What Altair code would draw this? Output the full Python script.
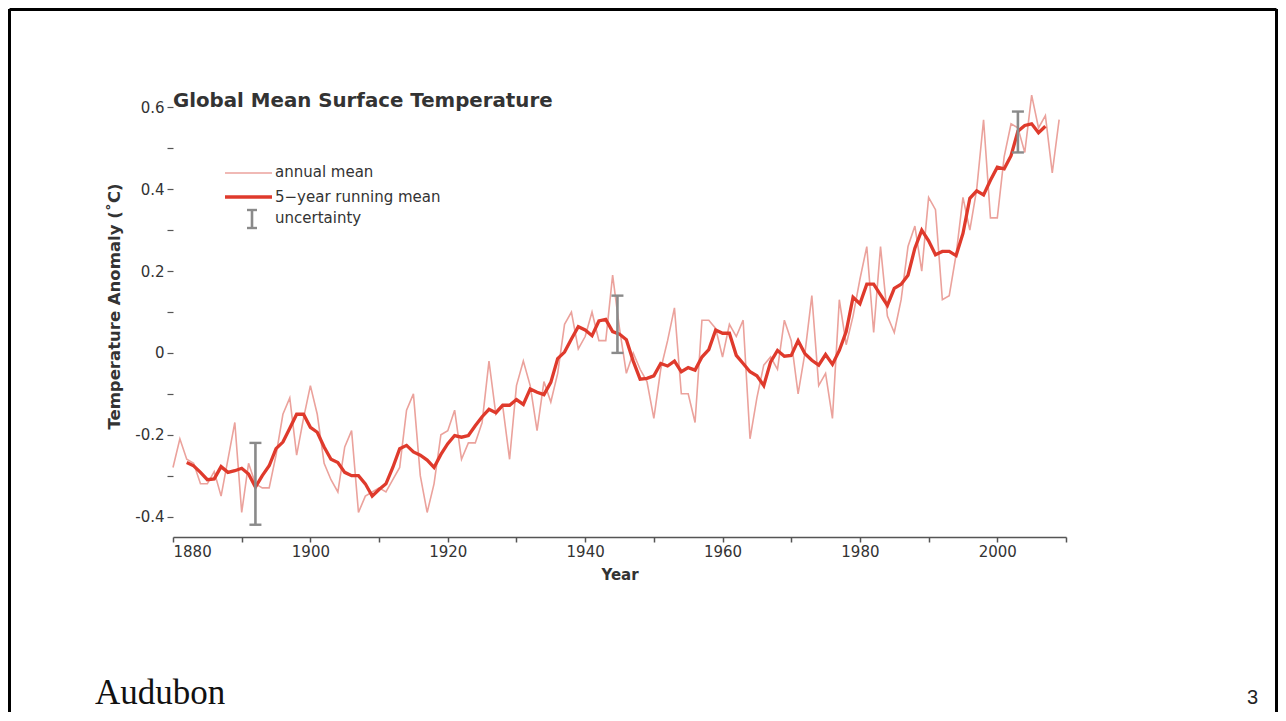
import altair as alt
import pandas as pd

# ---------------- data ----------------
years = list(range(1880, 2010))
annual = [
    -0.28, -0.21, -0.26, -0.27, -0.32, -0.32, -0.29, -0.35, -0.26, -0.17,
    -0.39, -0.27, -0.32, -0.33, -0.33, -0.25, -0.15, -0.11, -0.25, -0.16,
    -0.08, -0.15, -0.27, -0.31, -0.34, -0.23, -0.19, -0.39, -0.35, -0.34,
    -0.33, -0.34, -0.31, -0.28, -0.14, -0.10, -0.30, -0.39, -0.32, -0.20,
    -0.19, -0.14, -0.26, -0.22, -0.22, -0.17, -0.02, -0.15, -0.13, -0.26,
    -0.08, -0.02, -0.08, -0.19, -0.07, -0.12, -0.05, 0.07, 0.10, 0.01,
    0.04, 0.10, 0.03, 0.03, 0.19, 0.06, -0.05, 0.00, -0.04, -0.07,
    -0.16, -0.04, 0.03, 0.11, -0.10, -0.10, -0.17, 0.08, 0.08, 0.06,
    -0.01, 0.07, 0.04, 0.08, -0.21, -0.11, -0.03, -0.01, -0.04, 0.08,
    0.03, -0.10, 0.00, 0.14, -0.08, -0.05, -0.16, 0.13, 0.02, 0.09,
    0.18, 0.26, 0.05, 0.26, 0.09, 0.05, 0.13, 0.26, 0.31, 0.20,
    0.38, 0.35, 0.13, 0.14, 0.24, 0.38, 0.30, 0.40, 0.57, 0.33,
    0.33, 0.48, 0.56, 0.55, 0.49, 0.63, 0.55, 0.58, 0.44, 0.57,
]

run_years = list(range(1882, 2008))
running = [
    -0.268, -0.276, -0.292, -0.310, -0.308, -0.278, -0.292, -0.288,
    -0.282, -0.296, -0.328, -0.300, -0.276, -0.234, -0.218, -0.184, -0.150, -0.150,
    -0.182, -0.194, -0.230, -0.260, -0.268, -0.292, -0.300, -0.300, -0.320, -0.350,
    -0.334, -0.320, -0.280, -0.234, -0.226, -0.242, -0.250, -0.262, -0.280, -0.248,
    -0.222, -0.202, -0.206, -0.202, -0.178, -0.156, -0.138, -0.146, -0.128, -0.128,
    -0.114, -0.126, -0.088, -0.096, -0.102, -0.072, -0.014, 0.002, 0.034, 0.064,
    0.056, 0.042, 0.078, 0.082, 0.052, 0.046, 0.032, -0.020, -0.064, -0.062,
    -0.056, -0.026, -0.032, -0.020, -0.046, -0.036, -0.042, -0.010, 0.008, 0.056,
    0.048, 0.048, -0.006, -0.026, -0.046, -0.056, -0.080, -0.022, 0.006, -0.008,
    -0.006, 0.030, -0.002, -0.018, -0.030, -0.004, -0.028, 0.006, 0.052, 0.136,
    0.120, 0.168, 0.168, 0.142, 0.116, 0.158, 0.168, 0.190, 0.256, 0.300,
    0.274, 0.240, 0.248, 0.248, 0.238, 0.292, 0.378, 0.396, 0.386, 0.422,
    0.454, 0.450, 0.482, 0.542, 0.556, 0.560, 0.538, 0.554,
]

unc_years = [1892, 1944.7, 2003]
unc_lo = [-0.42, 0.00, 0.49]
unc_hi = [-0.22, 0.14, 0.59]

y_ticks = [-0.4, -0.3, -0.2, -0.1, 0.0, 0.1, 0.2, 0.3, 0.4, 0.5, 0.6]
x_ticks = list(range(1880, 2011, 10))

title_text = "Global Mean Surface Temperature"
legend_labels = ["annual mean", "5\u2212year running mean", "uncertainty"]

# ---------------- styling ----------------
ANNUAL_C = "#eba29c"
RUN_C = "#df3a2c"
UNC_C = "#8a8a8a"
TXT_C = "#333333"
FONT = "DejaVu Sans"

df_a = pd.DataFrame({"year": years, "value": annual})
df_r = pd.DataFrame({"year": run_years, "value": running})
df_u = pd.DataFrame({"year": unc_years, "lo": unc_lo, "hi": unc_hi})

xscale = alt.Scale(domain=[1880, 2010], nice=False, zero=False)
yscale = alt.Scale(domain=[-0.45, 0.65], nice=False, zero=False)

xaxis = alt.Axis(
    values=x_ticks, format="d",
    labelExpr="datum.value % 20 == 0 ? datum.label : ''",
    tickSize=5, tickWidth=1.5, tickColor="#555", domainColor="#555", domainWidth=1.5,
    labelFont=FONT, labelFontSize=15, labelColor=TXT_C, labelPadding=2,
    grid=False, titleFont=FONT, titleFontSize=15, titleFontWeight="bold",
    titleColor=TXT_C, titlePadding=8,
)
yaxis = alt.Axis(
    values=y_ticks, domain=False,
    labelExpr="abs(round(datum.value*10)) % 2 == 0 ? replace(format(datum.value, '.1~f'), '\u2212', '-') : ''",
    tickSize=6, tickWidth=1.2, tickColor="#555",
    labelFont=FONT, labelFontSize=15, labelColor=TXT_C, labelPadding=3,
    grid=False, titleFont=FONT, titleFontSize=16.5, titleFontWeight="bold",
    titleColor=TXT_C, titleX=-59, titleY=219, titleBaseline="middle",
)

X = alt.X("year:Q", scale=xscale, axis=xaxis, title="Year")
YT = "Temperature Anomaly (\u02daC)"

annual_line = alt.Chart(df_a).mark_line(color=ANNUAL_C, strokeWidth=1.6).encode(
    x=X, y=alt.Y("value:Q", scale=yscale, axis=yaxis, title=YT)
)
running_line = alt.Chart(df_r).mark_line(color=RUN_C, strokeWidth=3.3).encode(
    x=alt.X("year:Q", title="Year"), y=alt.Y("value:Q", title=YT)
)
unc_rule = alt.Chart(df_u).mark_rule(color=UNC_C, strokeWidth=2.6).encode(
    x=alt.X("year:Q", title="Year"), y=alt.Y("lo:Q", title=YT), y2="hi:Q"
)
unc_lo_tick = alt.Chart(df_u).mark_tick(color=UNC_C, orient="horizontal", size=12,
                                        thickness=2.4, opacity=1).encode(
    x=alt.X("year:Q", title="Year"), y=alt.Y("lo:Q", title=YT)
)
unc_hi_tick = alt.Chart(df_u).mark_tick(color=UNC_C, orient="horizontal", size=12,
                                        thickness=2.4, opacity=1).encode(
    x=alt.X("year:Q", title="Year"), y=alt.Y("hi:Q", title=YT)
)

one = alt.Data(values=[{}])


def text(t, x, y, size, color=TXT_C, font=FONT, weight="normal", align="left"):
    return alt.Chart(one).mark_text(
        text=t, font=font, fontSize=size, fontWeight=weight, color=color,
        align=align, baseline="alphabetic"
    ).encode(x=alt.value(x), y=alt.value(y))


def hrule(x1, x2, y, color, w):
    return alt.Chart(one).mark_rule(color=color, strokeWidth=w).encode(
        x=alt.value(x1), x2=alt.value(x2), y=alt.value(y))


def vrule(x, y1, y2, color, w):
    return alt.Chart(one).mark_rule(color=color, strokeWidth=w).encode(
        x=alt.value(x), y=alt.value(y1), y2=alt.value(y2))


decor = [
    text(title_text, 0, 20, 19.8, weight="bold"),
    hrule(52, 99, 86, ANNUAL_C, 1.6),
    hrule(52, 99, 110, RUN_C, 3.4),
    vrule(79, 123, 141, UNC_C, 2.6),
    hrule(74, 84, 123, UNC_C, 2.4),
    hrule(74, 84, 141, UNC_C, 2.4),
    text(legend_labels[0], 102, 89.5, 15),
    text(legend_labels[1], 102, 114.5, 15),
    text(legend_labels[2], 102, 136, 15),
    text("Audubon", -78, 617, 35, color="#111", font="Liberation Serif"),
    text("3", 1074, 617, 20, color="#222", font="Liberation Sans"),
    # slide frame
    hrule(-163.5, 1103.5, -77.5, "#000", 3),
    vrule(-163.5, -78, 625, "#000", 3),
    vrule(1103.5, -78, 625, "#000", 3),
]

chart = alt.layer(
    annual_line, running_line, unc_rule, unc_lo_tick, unc_hi_tick, *decor
).properties(
    width=893, height=450,
    autosize=alt.AutoSizeParams(type="none"),
    padding={"left": 165, "top": 79, "right": 212, "bottom": 175},
    background="white",
).configure_view(stroke=None)

chart.save("out.html", embed_options={"renderer": "svg", "actions": False})
